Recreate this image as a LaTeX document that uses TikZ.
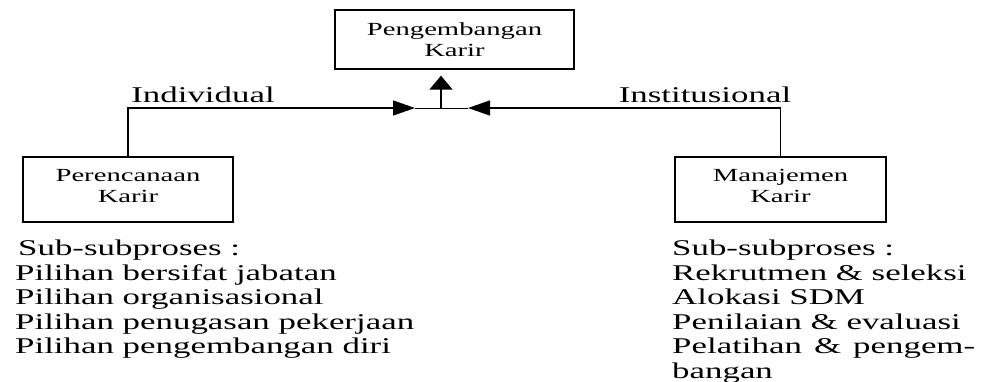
\documentclass[tikz,border=0pt]{standalone}
\usepackage{fontspec}
\setmainfont[FakeStretch=1.55]{Liberation Serif}
\usetikzlibrary{arrows.meta}
\begin{document}
\begin{tikzpicture}[x=1pt,y=-1pt,
  conn/.style={line width=1.3pt},
  boxnode/.style={draw, line width=1.3pt, align=center, inner sep=0pt,
    font=\fontsize{18.5}{20.5}\selectfont},
  listtext/.style={align=left, inner sep=0pt, anchor=north west,
    font=\fontsize{22.5}{24.6}\selectfont},
  labeltext/.style={inner sep=0pt, anchor=base, font=\fontsize{22.5}{24.6}\selectfont},
  harrow/.style={-{Triangle[length=22pt,width=15pt]}},
  varrow/.style={-{Triangle[length=14pt,width=23pt]}}]
\useasboundingbox (0,0) rectangle (985,382);
\fill[white] (0,0) rectangle (985,382);

\node[boxnode, minimum width=239pt, minimum height=59pt] (top) at (454.5,39.5) {Pengembangan\\Karir};
\node[boxnode, minimum width=210pt, minimum height=65pt, text depth=7pt] (left) at (128,189.5) {Perencanaan\\Karir};
\node[boxnode, minimum width=211pt, minimum height=65pt, text depth=7pt] (right) at (780.5,189.5) {Manajemen\\Karir};

\coordinate (lt) at (415,108);
\coordinate (rt) at (468,108);
\coordinate (j) at (441,108);

\draw[conn, harrow] (left.north) |- (lt);
\draw[conn, harrow] (right.north) |- (rt);
\draw[line width=0.8pt] (lt) -- (rt);
\draw[conn, varrow, shorten >=6pt] (j) -- (j |- top.south);

\node[labeltext] (indiv) at (203,103) {Individual};
\node[labeltext] (inst) at (705,103) {Institusional};

\node[listtext] (llist) at (15,239.6) {\hspace{3pt}Sub-subproses :\\Pilihan bersifat jabatan\\Pilihan organisasional\\Pilihan penugasan pekerjaan\\Pilihan pengembangan diri};
\node[listtext] (rlist) at (672,239.6) {Sub-subproses :\\Rekrutmen \& seleksi\\Alokasi SDM\\Penilaian \& evaluasi\\\hbox to 303pt{Pelatihan\hfill\&\hfill pengem-}\\bangan};
\end{tikzpicture}
\end{document}
